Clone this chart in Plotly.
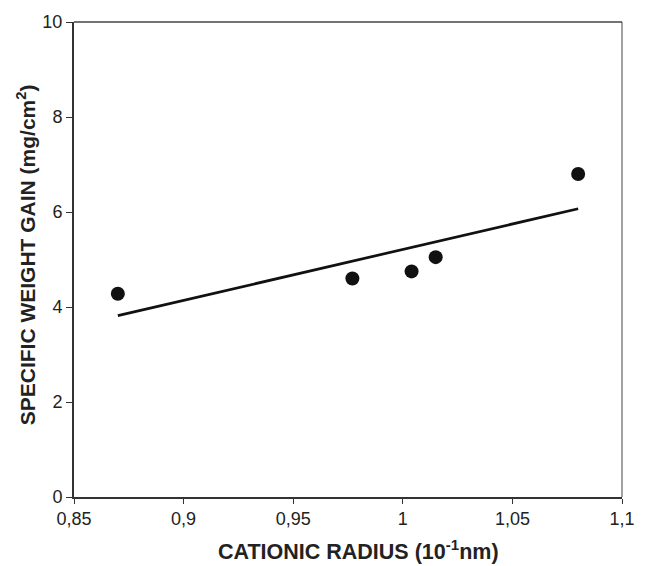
import numpy as np
import plotly.graph_objects as go

radius = [0.87, 0.977, 1.004, 1.015, 1.08]
weight_gain = [4.28, 4.6, 4.75, 5.05, 6.8]

x_ticks = [0.85, 0.9, 0.95, 1.0, 1.05, 1.1]
x_tick_labels = ["0,85", "0,9", "0,95", "1", "1,05", "1,1"]
y_ticks = [0, 2, 4, 6, 8, 10]
y_tick_labels = ["0", "2", "4", "6", "8", "10"]

x_title = "<b>CATIONIC RADIUS (10<sup>-1</sup>nm)</b>"
y_title = "<b>SPECIFIC WEIGHT GAIN (mg/cm<sup>2</sup>)</b>"

# linear trend line (least squares) over the data range
slope, intercept = np.polyfit(radius, weight_gain, 1)
fit_x = [min(radius), max(radius)]
fit_y = [slope * v + intercept for v in fit_x]

fig = go.Figure()
fig.add_trace(go.Scatter(x=fit_x, y=fit_y, mode="lines",
                         line=dict(color="#111111", width=2.7), showlegend=False))
fig.add_trace(go.Scatter(x=radius, y=weight_gain, mode="markers",
                         marker=dict(color="#111111", size=14), showlegend=False))

font_family = "Liberation Sans, Arial, sans-serif"

fig.update_layout(
    width=648, height=566,
    margin=dict(l=74, r=26, t=14, b=69),
    paper_bgcolor="white", plot_bgcolor="white",
    font=dict(family=font_family, color="#222222", size=18),
    xaxis=dict(
        range=[0.85, 1.1], tickvals=x_ticks, ticktext=x_tick_labels,
        showgrid=False, zeroline=False, showline=True, linecolor="#333333", linewidth=1.5,
        ticks="outside", ticklen=5, tickcolor="#333333", tickwidth=1.2,
        tickfont=dict(size=18, color="#222222"),
    ),
    yaxis=dict(
        range=[0, 10], tickvals=y_ticks, ticktext=y_tick_labels,
        showgrid=False, zeroline=False, showline=True, linecolor="#333333", linewidth=2,
        ticks="outside", ticklen=6, tickcolor="#333333", tickwidth=1.2,
        tickfont=dict(size=18, color="#222222"),
    ),
)

fig.add_annotation(text=x_title, xref="paper", yref="paper", x=0.519, y=-0.1118,
                   xanchor="center", yanchor="middle", showarrow=False,
                   font=dict(size=21.5, color="#222222", family=font_family))
fig.add_annotation(text=y_title, xref="paper", yref="paper", x=-0.0876, y=0.511,
                   xanchor="center", yanchor="middle", showarrow=False, textangle=-90,
                   font=dict(size=21, color="#222222", family=font_family))

# top and right frame lines
fig.add_shape(type="line", xref="paper", yref="paper", x0=0, x1=1, y0=1, y1=1,
              line=dict(color="#444444", width=1.3))
fig.add_shape(type="line", xref="paper", yref="paper", x0=1, x1=1, y0=0, y1=1,
              line=dict(color="#444444", width=1))

fig.write_html("out.html")
